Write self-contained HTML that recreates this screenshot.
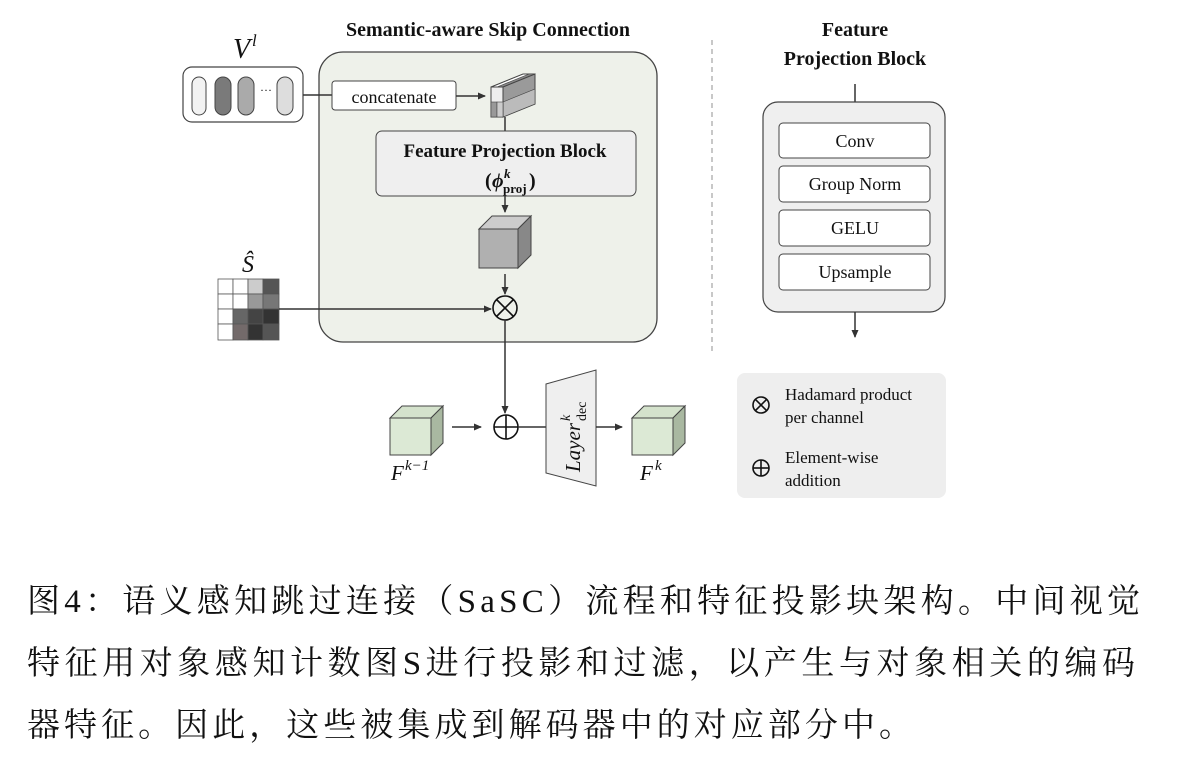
<!DOCTYPE html>
<html><head><meta charset="utf-8"><style>
html,body{margin:0;padding:0;background:#fff;}
svg{display:block;}
.s{font-family:"Liberation Serif","Noto Serif CJK SC",serif;}
</style></head><body>
<svg width="1182" height="777" viewBox="0 0 1182 777" xmlns="http://www.w3.org/2000/svg">
<defs>
<marker id="a" markerWidth="8" markerHeight="8" refX="7" refY="4" orient="auto" markerUnits="userSpaceOnUse"><path d="M0,0.5 L8,4 L0,7.5 z" fill="#333"/></marker>
</defs>
<g class="s" fill="#111">
<rect x="319" y="52" width="338" height="290" rx="24" fill="#eef1ea" stroke="#444" stroke-width="1.3"/>
<text x="488" y="36" font-size="20" font-weight="bold" text-anchor="middle">Semantic-aware Skip Connection</text>
<!-- V^l -->
<text x="233" y="58" font-size="28" font-style="italic">V</text>
<text x="252" y="46" font-size="17" font-style="italic">l</text>
<rect x="183" y="67" width="120" height="55" rx="9" fill="#fff" stroke="#444" stroke-width="1.2"/>
<rect x="192" y="77" width="14" height="38" rx="7" fill="#f2f2f2" stroke="#444"/>
<rect x="215" y="77" width="16" height="38" rx="8" fill="#7a7a7a" stroke="#444"/>
<rect x="238" y="77" width="16" height="38" rx="8" fill="#aaa" stroke="#444"/>
<text x="266" y="94" font-size="12" text-anchor="middle">···</text>
<rect x="277" y="77" width="16" height="38" rx="8" fill="#ddd" stroke="#444"/>
<line x1="303" y1="95" x2="332" y2="95" stroke="#333" stroke-width="1.5"/>
<rect x="332" y="81" width="124" height="29" rx="3" fill="#fff" stroke="#444"/>
<text x="394" y="103" font-size="18" text-anchor="middle">concatenate</text>
<line x1="456" y1="96" x2="485" y2="96" stroke="#333" stroke-width="1.5" marker-end="url(#a)"/>
<!-- small cuboid -->
<polygon points="491,87 503,87 535,74 523,74" fill="#fff" stroke="#444"/>
<polygon points="497,87 503,87 535,74 529,74" fill="#888" stroke="#444" stroke-width="0.6"/>
<polygon points="503,87 535,74 535,104 503,117" fill="#9a9a9a" stroke="#444"/>
<polygon points="503,102 535,89 535,104 503,117" fill="#bbb" stroke="#444" stroke-width="0.6"/>
<rect x="491" y="87" width="12" height="30" fill="#eee" stroke="#444"/>
<rect x="491" y="102" width="6" height="15" fill="#999" stroke="#444" stroke-width="0.6"/>
<rect x="497" y="102" width="6" height="15" fill="#ccc" stroke="#444" stroke-width="0.6"/>
<line x1="505" y1="117" x2="505" y2="131" stroke="#333" stroke-width="1.5"/>
<!-- FPB -->
<rect x="376" y="131" width="260" height="65" rx="6" fill="#efefef" stroke="#444"/>
<text x="505" y="157" font-size="19" font-weight="bold" text-anchor="middle">Feature Projection Block</text>
<text x="485" y="187" font-size="20" font-weight="bold">(</text>
<text x="492" y="187" font-size="20" font-weight="bold" font-style="italic">ϕ</text>
<text x="504" y="178" font-size="13" font-weight="bold" font-style="italic">k</text>
<text x="503" y="193" font-size="13" font-weight="bold">proj</text>
<text x="529" y="187" font-size="20" font-weight="bold">)</text>
<line x1="505" y1="196" x2="505" y2="212" stroke="#333" stroke-width="1.5" marker-end="url(#a)"/>
<!-- gray cube -->
<polygon points="479,229 492,216 531,216 518,229" fill="#ccc" stroke="#444"/>
<polygon points="518,229 531,216 531,255 518,268" fill="#888" stroke="#444"/>
<rect x="479" y="229" width="39" height="39" fill="#b0b0b0" stroke="#444"/>
<line x1="505" y1="274" x2="505" y2="294" stroke="#333" stroke-width="1.5" marker-end="url(#a)"/>
<circle cx="505" cy="308" r="12" fill="none" stroke="#111" stroke-width="1.6"/>
<line x1="496.5" y1="299.5" x2="513.5" y2="316.5" stroke="#111" stroke-width="1.6"/>
<line x1="513.5" y1="299.5" x2="496.5" y2="316.5" stroke="#111" stroke-width="1.6"/>
<!-- S hat -->
<text x="248" y="272" font-size="24" font-style="italic" text-anchor="middle">Ŝ</text>
<g stroke="#555" stroke-width="0.8">
<rect x="218" y="279" width="15" height="15" fill="#fff"/><rect x="233" y="279" width="15" height="15" fill="#fff"/><rect x="248" y="279" width="15" height="15" fill="#ccc"/><rect x="263" y="279" width="16" height="15" fill="#555"/>
<rect x="218" y="294" width="15" height="15" fill="#fff"/><rect x="233" y="294" width="15" height="15" fill="#fff"/><rect x="248" y="294" width="15" height="15" fill="#999"/><rect x="263" y="294" width="16" height="15" fill="#777"/>
<rect x="218" y="309" width="15" height="15" fill="#fff"/><rect x="233" y="309" width="15" height="15" fill="#666"/><rect x="248" y="309" width="15" height="15" fill="#444"/><rect x="263" y="309" width="16" height="15" fill="#333"/>
<rect x="218" y="324" width="15" height="16" fill="#fff"/><rect x="233" y="324" width="15" height="16" fill="#736a6a"/><rect x="248" y="324" width="15" height="16" fill="#333"/><rect x="263" y="324" width="16" height="16" fill="#555"/>
</g>
<line x1="279" y1="309" x2="491" y2="309" stroke="#333" stroke-width="1.5" marker-end="url(#a)"/>
<line x1="505" y1="320" x2="505" y2="413" stroke="#333" stroke-width="1.5" marker-end="url(#a)"/>
<circle cx="506" cy="427" r="12" fill="none" stroke="#111" stroke-width="1.6"/>
<line x1="494" y1="427" x2="518" y2="427" stroke="#111" stroke-width="1.6"/>
<line x1="506" y1="415" x2="506" y2="439" stroke="#111" stroke-width="1.6"/>
<!-- F^{k-1} cube -->
<polygon points="390,418 402,406 443,406 431,418" fill="#d4e2cc" stroke="#444"/>
<polygon points="431,418 443,406 443,443 431,455" fill="#a9b8a1" stroke="#444"/>
<rect x="390" y="418" width="41" height="37" fill="#dce9d5" stroke="#444"/>
<text x="391" y="480" font-size="21" font-style="italic">F</text>
<text x="405" y="470" font-size="15" font-style="italic">k−1</text>
<line x1="452" y1="427" x2="481" y2="427" stroke="#333" stroke-width="1.5" marker-end="url(#a)"/>
<line x1="518" y1="427" x2="546" y2="427" stroke="#333" stroke-width="1.5"/>
<!-- trapezoid -->
<polygon points="546,384 596,370 596,486 546,473" fill="#efefef" stroke="#444"/>
<g transform="translate(580,472) rotate(-90)">
<text x="0" y="0" font-size="21" font-style="italic">Layer</text>
<text x="51" y="-10" font-size="14" font-style="italic">k</text>
<text x="51" y="6" font-size="14">dec</text>
</g>
<line x1="596" y1="427" x2="622" y2="427" stroke="#333" stroke-width="1.5" marker-end="url(#a)"/>
<!-- F^k cube -->
<polygon points="632,418 644,406 685,406 673,418" fill="#d4e2cc" stroke="#444"/>
<polygon points="673,418 685,406 685,443 673,455" fill="#a9b8a1" stroke="#444"/>
<rect x="632" y="418" width="41" height="37" fill="#dce9d5" stroke="#444"/>
<text x="640" y="480" font-size="21" font-style="italic">F</text>
<text x="655" y="470" font-size="15" font-style="italic">k</text>
<line x1="712" y1="40" x2="712" y2="352" stroke="#aaa" stroke-width="1.3" stroke-dasharray="5,4"/>
<!-- right FPB -->
<text x="855" y="36" font-size="20" font-weight="bold" text-anchor="middle">Feature</text>
<text x="855" y="65" font-size="20" font-weight="bold" text-anchor="middle">Projection Block</text>
<line x1="855" y1="84" x2="855" y2="102" stroke="#333" stroke-width="1.5"/>
<rect x="763" y="102" width="182" height="210" rx="15" fill="#efefef" stroke="#444" stroke-width="1.2"/>
<rect x="779" y="123" width="151" height="35" rx="4" fill="#fff" stroke="#444"/>
<text x="855" y="147" font-size="18" text-anchor="middle">Conv</text>
<rect x="779" y="166" width="151" height="36" rx="4" fill="#fff" stroke="#444"/>
<text x="855" y="190" font-size="18" text-anchor="middle">Group Norm</text>
<rect x="779" y="210" width="151" height="36" rx="4" fill="#fff" stroke="#444"/>
<text x="855" y="234" font-size="18" text-anchor="middle">GELU</text>
<rect x="779" y="254" width="151" height="36" rx="4" fill="#fff" stroke="#444"/>
<text x="855" y="278" font-size="18" text-anchor="middle">Upsample</text>
<line x1="855" y1="312" x2="855" y2="337" stroke="#333" stroke-width="1.5" marker-end="url(#a)"/>
<!-- legend -->
<rect x="737" y="373" width="209" height="125" rx="8" fill="#eeeeee"/>
<circle cx="761" cy="405" r="8" fill="none" stroke="#111" stroke-width="1.6"/>
<line x1="755.3" y1="399.3" x2="766.7" y2="410.7" stroke="#111" stroke-width="1.6"/>
<line x1="766.7" y1="399.3" x2="755.3" y2="410.7" stroke="#111" stroke-width="1.6"/>
<text x="785" y="400" font-size="17">Hadamard product</text>
<text x="785" y="423" font-size="17">per channel</text>
<circle cx="761" cy="468" r="8" fill="none" stroke="#111" stroke-width="1.6"/>
<line x1="753" y1="468" x2="769" y2="468" stroke="#111" stroke-width="1.6"/>
<line x1="761" y1="460" x2="761" y2="476" stroke="#111" stroke-width="1.6"/>
<text x="785" y="463" font-size="17">Element-wise</text>
<text x="785" y="486" font-size="17">addition</text>
<!-- caption -->
<g font-size="33" fill="#111">
<text x="27" y="612" textLength="1113" lengthAdjust="spacing">图4：语义感知跳过连接（SaSC）流程和特征投影块架构。中间视觉</text>
<text x="27" y="674" textLength="1108" lengthAdjust="spacing">特征用对象感知计数图S进行投影和过滤，以产生与对象相关的编码</text>
<text x="27" y="736" textLength="885" lengthAdjust="spacing">器特征。因此，这些被集成到解码器中的对应部分中。</text>
</g>
</g>
</svg>
</body></html>
